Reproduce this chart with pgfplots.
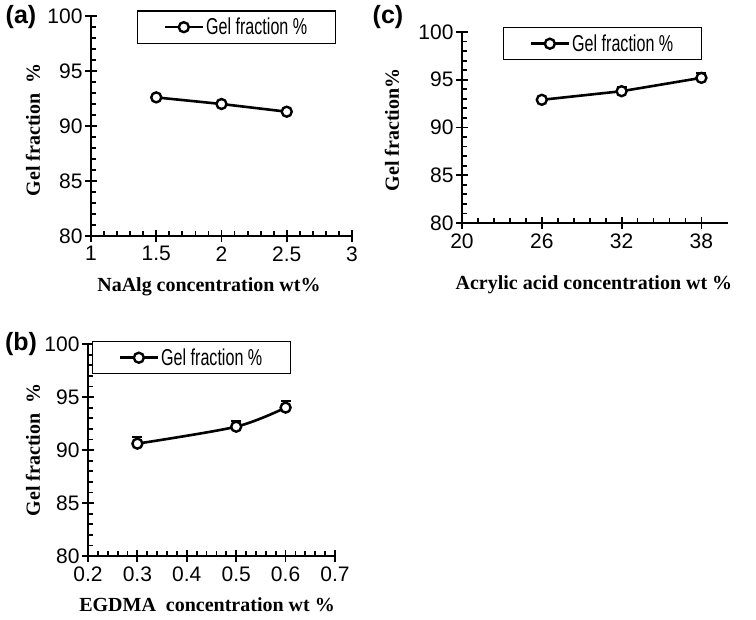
\documentclass[border=0pt]{standalone}
\usepackage{pgfplots}
\pgfplotsset{compat=1.18}
\usepackage{graphicx}
\usepackage{fontspec}
\setmainfont{Liberation Serif}
\newfontfamily\arial{Liberation Sans}
\newcommand{\legtext}{{\arial\fontsize{23}{26}\selectfont\scalebox{0.7}[1]{Gel fraction \%}}}

\pgfplotsset{
 gel/.style={
  scale only axis,
  axis lines=left,
  axis line style={-, line width=2.2pt},
  ymin=80, ymax=100, ytick={80,85,...,100}, minor y tick num=4,
  minor x tick num=4,
  tick align=inside,
  major tick length=12pt, minor tick length=5pt,
  every tick/.style={black, line width=1.8pt},
  every major x tick/.append style={yshift=-6pt},
  every major y tick/.append style={xshift=-6pt},
  tick label style={font=\arial\fontsize{21}{25}\selectfont},
  xticklabel shift=7pt, yticklabel shift=5pt,
  /pgf/number format/assume math mode=true,
  label style={font=\bfseries\fontsize{20}{24}\selectfont},
  legend style={draw=black, line width=1.2pt, anchor=north west,
    inner xsep=26pt, inner ysep=5pt},
  legend image code/.code={\draw[mark repeat=2,mark phase=2] plot coordinates {(0pt,0pt)(19pt,0pt)(38pt,0pt)};},
  clip=false,
 },
 gelplot/.style={black, line width=2.6pt, mark=*, mark size=5pt,
   mark options={fill=white, draw=black, line width=2.4pt, solid}},
 stem/.style={black, line width=2pt, mark=none, forget plot},
 cap/.style={black, only marks, mark=-, mark size=5pt,
   mark options={line width=2pt}, forget plot},
}

\begin{document}
\begin{tikzpicture}
\useasboundingbox (0pt,0pt) rectangle (756pt,-620pt);

% (a)
\begin{axis}[gel,
  at={(91pt,-236pt)}, anchor=south west,
  width=261pt, height=220pt,
  xmin=1, xmax=3, xtick={1,1.5,2,2.5,3},
  xlabel={NaAlg concentration wt\%},
  ylabel={Gel fraction \ \%},
  xlabel style={at={(axis description cs:0.452,-0.232)}, anchor=center},
  ylabel style={at={(axis description cs:-0.222,0.482)}, anchor=center},
  legend style={at={(0.176,1.025)}},
]
\addplot[gelplot] coordinates {(1.5,92.6) (2,92.0) (2.5,91.3)};
\addlegendentry{\legtext}
\end{axis}

% (c)
\begin{axis}[gel,
  at={(462pt,-223pt)}, anchor=south west,
  width=266pt, height=191pt,
  xmin=20, xmax=40, xtick={20,26,32,38},
  xlabel={Acrylic acid concentration wt \%},
  ylabel={Gel fraction\%},
  xlabel style={at={(axis description cs:0.496,-0.325)}, anchor=center},
  ylabel style={at={(axis description cs:-0.263,0.487)}, anchor=center},
  legend style={at={(0.154,1.026)}},
]
% upper error bars: 92.9+0.2, 93.8+0.4, 95.2+0.5
\addplot[stem] coordinates {(26,92.9) (26,93.1)};
\addplot[stem] coordinates {(32,93.8) (32,94.2)};
\addplot[stem] coordinates {(38,95.2) (38,95.7)};
\addplot[cap] coordinates {(26,93.1) (32,94.2) (38,95.7)};
\addplot[gelplot]
  coordinates {(26,92.9) (32,93.8) (38,95.2)};
\addlegendentry{\legtext}
\end{axis}

% (b)
\begin{axis}[gel,
  at={(88pt,-556pt)}, anchor=south west,
  width=247pt, height=212pt,
  xmin=0.2, xmax=0.7, xtick={0.2,0.3,...,0.7},
  xticklabel style={/pgf/number format/.cd, fixed, fixed zerofill, precision=1},
  xlabel={EGDMA \ concentration wt \%},
  ylabel={Gel fraction \ \%},
  xlabel style={at={(axis description cs:0.482,-0.231)}, anchor=center},
  ylabel style={at={(axis description cs:-0.223,0.5)}, anchor=center},
  legend style={at={(0.016,1.014)}},
]
% upper error bars: 90.6+0.65, 92.2+0.55, 94.0+0.6
\addplot[stem] coordinates {(0.3,90.6) (0.3,91.25)};
\addplot[stem] coordinates {(0.5,92.2) (0.5,92.75)};
\addplot[stem] coordinates {(0.6,94.0) (0.6,94.6)};
\addplot[cap] coordinates {(0.3,91.25) (0.5,92.75) (0.6,94.6)};
\addplot[gelplot, smooth]
  coordinates {(0.3,90.6) (0.5,92.2) (0.6,94.0)};
\addlegendentry{\legtext}
\end{axis}

\node[font=\arial\bfseries\fontsize{25}{28}\selectfont] at (21pt,-17pt) {(a)};
\node[font=\arial\bfseries\fontsize{25}{28}\selectfont] at (388pt,-17pt) {(c)};
\node[font=\arial\bfseries\fontsize{25}{28}\selectfont] at (21pt,-344pt) {(b)};
\end{tikzpicture}
\end{document}
